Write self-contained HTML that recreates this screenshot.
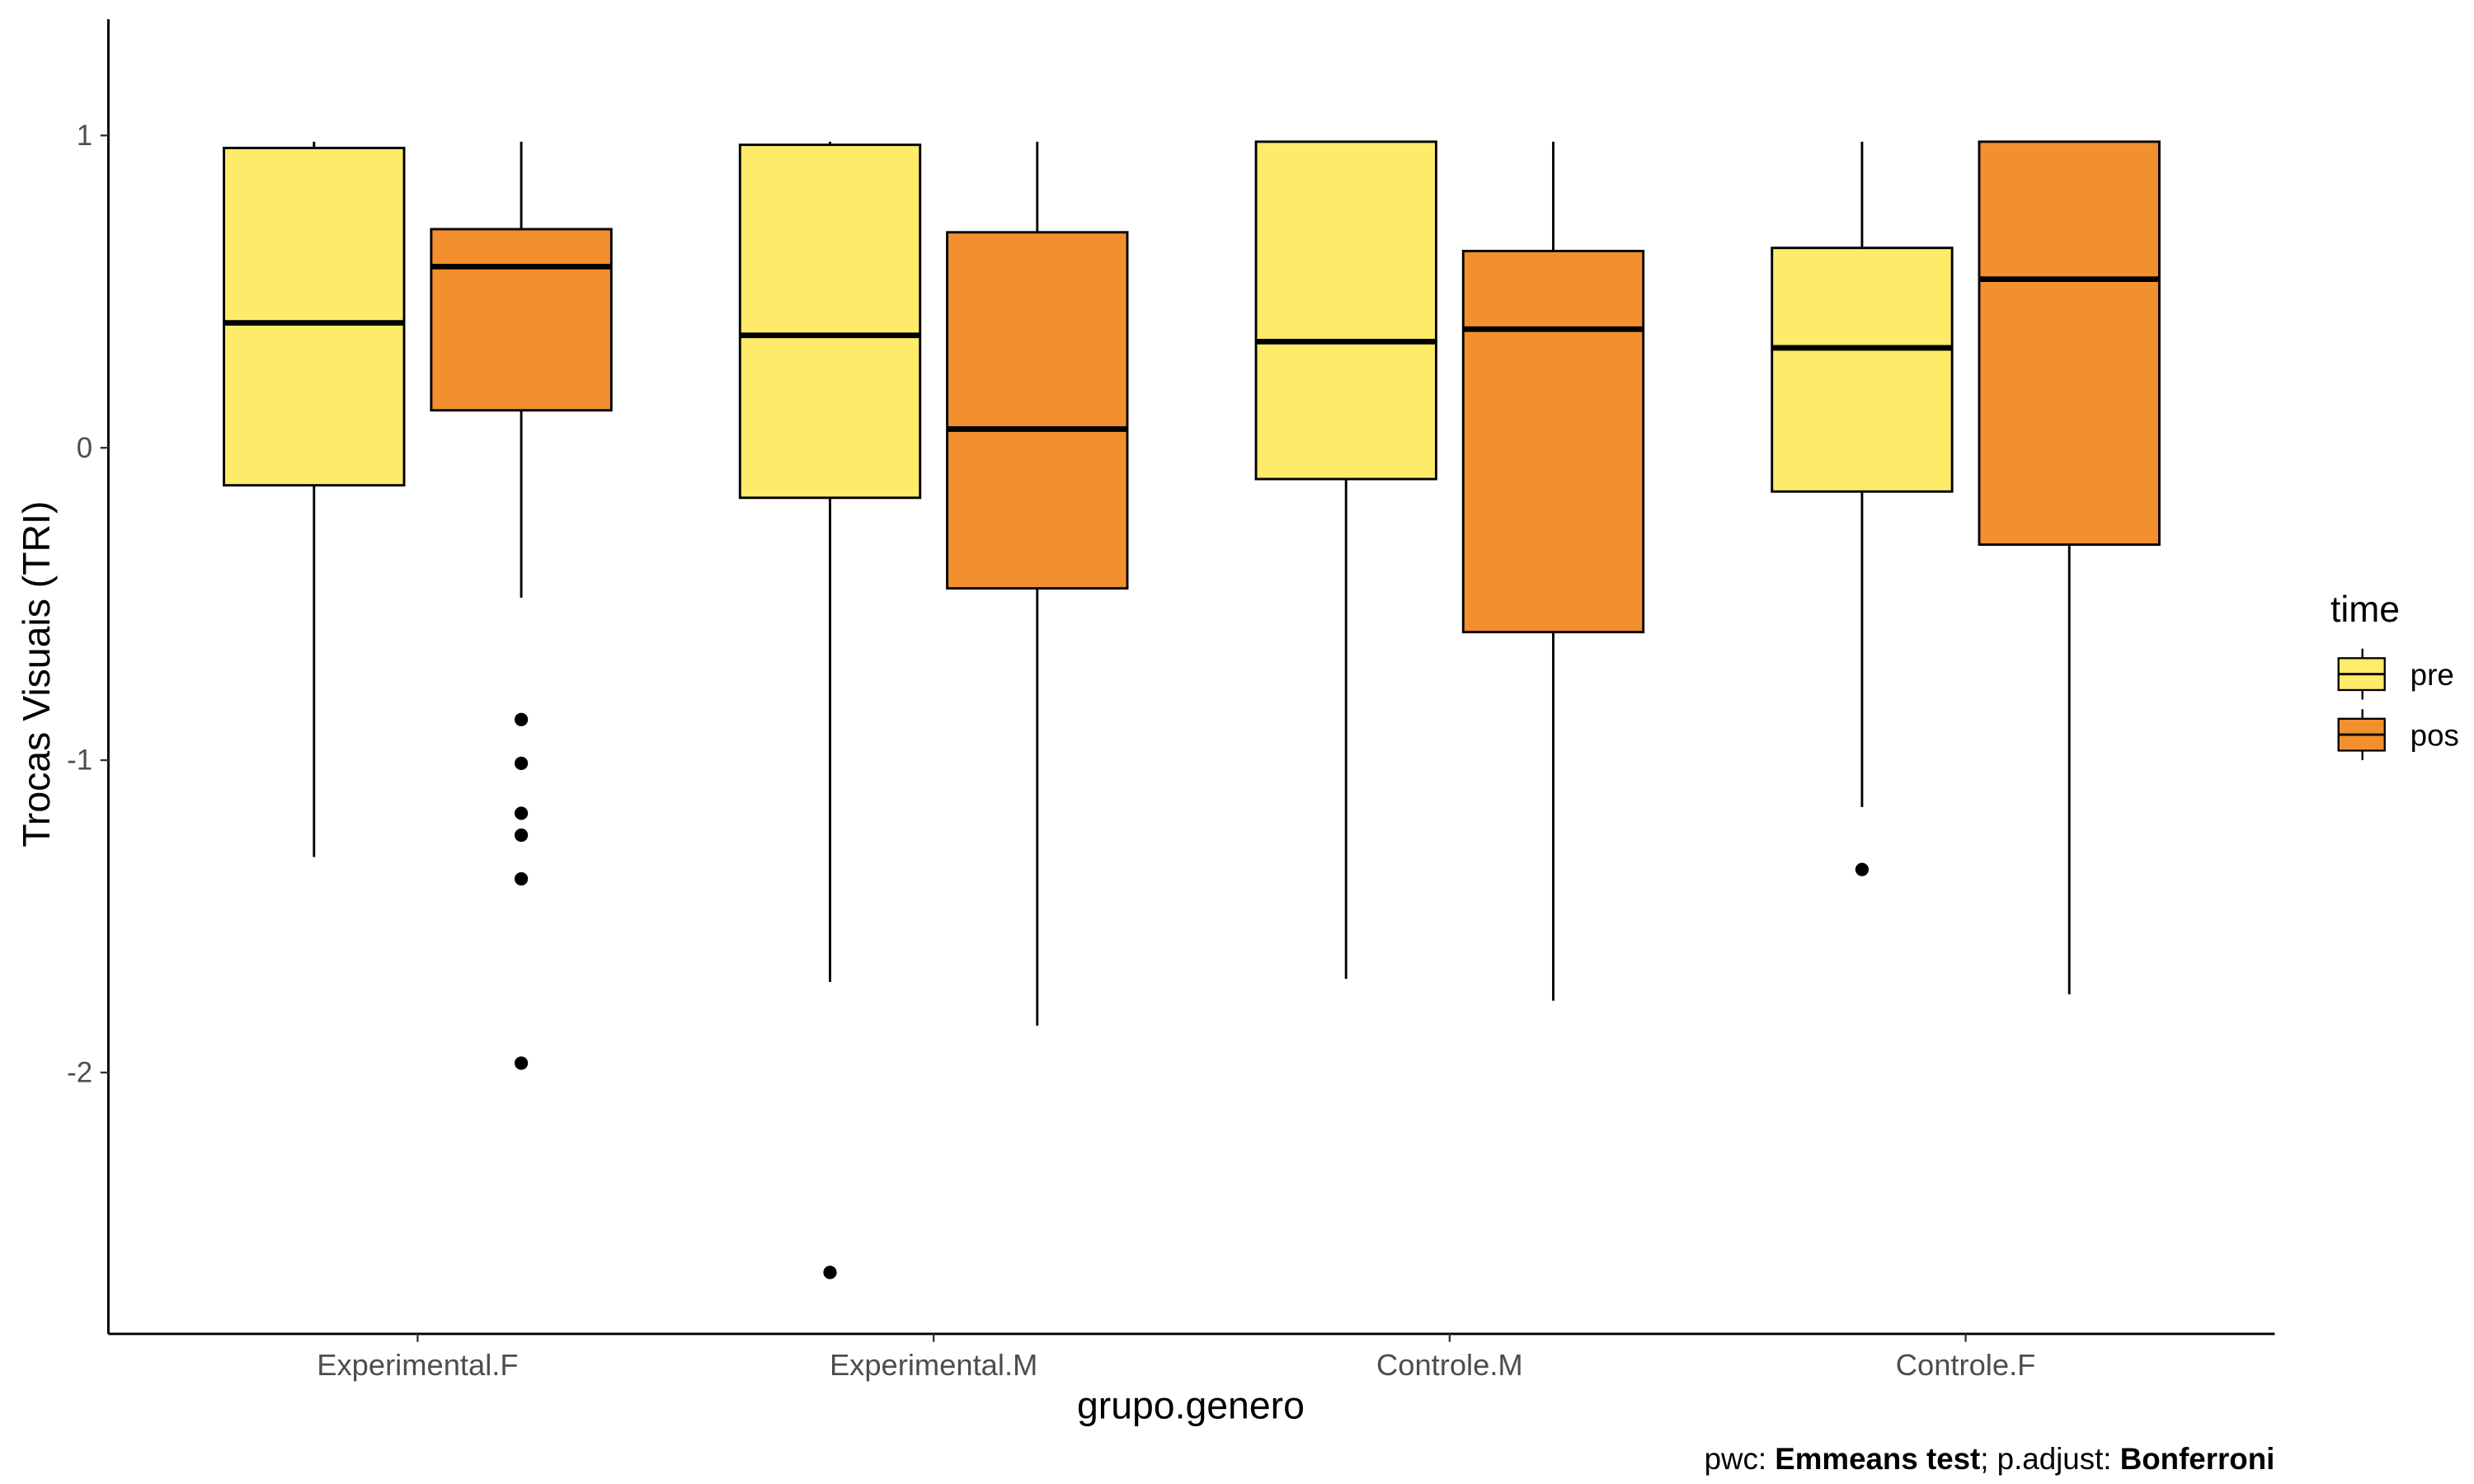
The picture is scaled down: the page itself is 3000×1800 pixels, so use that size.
<!DOCTYPE html>
<html><head><meta charset="utf-8"><style>
html,body{margin:0;padding:0;background:#fff}
svg{display:block;font-family:"Liberation Sans",Arial,sans-serif}
</style></head><body>
<svg id="chart" width="3000" height="1800" viewBox="0 0 1552 931.2" preserveAspectRatio="none" xmlns="http://www.w3.org/2000/svg">
<g id="marks"></g>
<line x1="68" y1="12" x2="68" y2="837" stroke="#000" stroke-width="1.5"/>
<line x1="68" y1="837" x2="1427" y2="837" stroke="#000" stroke-width="1.5"/>
<g id="axes"></g>
<text x="747" y="890" font-size="24" text-anchor="middle">grupo.genero</text>
<text transform="translate(31,423) rotate(-90)" font-size="24" text-anchor="middle">Trocas Visuais (TRI)</text>
<text x="1427" y="922" font-size="19" text-anchor="end">pwc: <tspan font-weight="bold">Emmeans test</tspan>; p.adjust: <tspan font-weight="bold">Bonferroni</tspan></text>
<g>
<text x="1462" y="390" font-size="23">time</text>
<line x1="1482" y1="407" x2="1482" y2="439" stroke="#000" stroke-width="1.2"/>
<rect x="1467" y="413" width="29" height="20" fill="#FEEB6A" stroke="#000" stroke-width="1.2"/>
<line x1="1467" y1="423" x2="1496" y2="423" stroke="#000" stroke-width="1.5"/>
<text x="1512" y="430" font-size="19">pre</text>
<line x1="1482" y1="445" x2="1482" y2="477" stroke="#000" stroke-width="1.2"/>
<rect x="1467" y="451" width="29" height="20" fill="#F28F2E" stroke="#000" stroke-width="1.2"/>
<line x1="1467" y1="461" x2="1496" y2="461" stroke="#000" stroke-width="1.5"/>
<text x="1512" y="468" font-size="19">pos</text>
</g>
</svg>
<script>
const categories = ["Experimental.F","Experimental.M","Controle.M","Controle.F"];
const yTicks = [1,0,-1,-2];
const preStats = [[-1.31,-0.12,0.40,0.96,0.98],[-1.71,-0.16,0.36,0.97,0.98],[-1.70,-0.10,0.34,0.98,0.98],[-1.15,-0.14,0.32,0.64,0.98]];
const posStats = [[-0.48,0.12,0.58,0.70,0.98],[-1.85,-0.45,0.06,0.69,0.98],[-1.77,-0.59,0.38,0.63,0.98],[-1.75,-0.31,0.54,0.98,0.98]];
const preOutliers = [[],[-2.64],[],[-1.35]];
const posOutliers = [[-0.87,-1.01,-1.17,-1.24,-1.38,-1.97],[],[],[]];
const NS="http://www.w3.org/2000/svg";
function y(v){return 281-196*v;}
function xc(i){return 262+i*323.7;}
function mk(tag,attrs,parent){const e=document.createElementNS(NS,tag);for(const k in attrs)e.setAttribute(k,attrs[k]);parent.appendChild(e);return e;}
const marks=document.getElementById('marks'), axes=document.getElementById('axes');
yTicks.forEach(t=>{
  const l=mk('line',{x1:63,x2:68,y1:y(t),y2:y(t),stroke:'#333','stroke-width':1.2},axes);
  
  
  const tx=mk('text',{x:58,y:y(t)+6,'font-size':18,'text-anchor':'end',fill:'#4d4d4d'},axes);
  tx.textContent=String(t);
  
  
});
categories.forEach((c,i)=>{
  const l=mk('line',{x1:xc(i),x2:xc(i),y1:837,y2:842,stroke:'#333','stroke-width':1.2},axes);
  
  
  const tx=mk('text',{x:xc(i),y:863,'font-size':18.8,'text-anchor':'middle',fill:'#4d4d4d'},axes);
  tx.textContent=c;
  
  
});
function box(cx,s,outs,fill,name){
  const g=mk('g',{},marks);
  
  
  const w=113;
  mk('line',{x1:cx,x2:cx,y1:y(s[4]),y2:y(s[3]),stroke:'#000','stroke-width':1.5},g);
  mk('line',{x1:cx,x2:cx,y1:y(s[1]),y2:y(s[0]),stroke:'#000','stroke-width':1.5},g);
  mk('rect',{x:cx-w/2,y:y(s[3]),width:w,height:y(s[1])-y(s[3]),fill:fill,stroke:'#000','stroke-width':1.5},g);
  mk('line',{x1:cx-w/2,x2:cx+w/2,y1:y(s[2]),y2:y(s[2]),stroke:'#000','stroke-width':3.5},g);
  outs.forEach(o=>{const c=mk('circle',{cx:cx,cy:y(o),r:4.2,fill:'#000'},g);
    
    });
}
categories.forEach((c,i)=>{
  box(xc(i)-65,preStats[i],preOutliers[i],'#FEEB6A','box-pre-'+i);
  box(xc(i)+65,posStats[i],posOutliers[i],'#F28F2E','box-pos-'+i);
});
</script>
</body></html>
